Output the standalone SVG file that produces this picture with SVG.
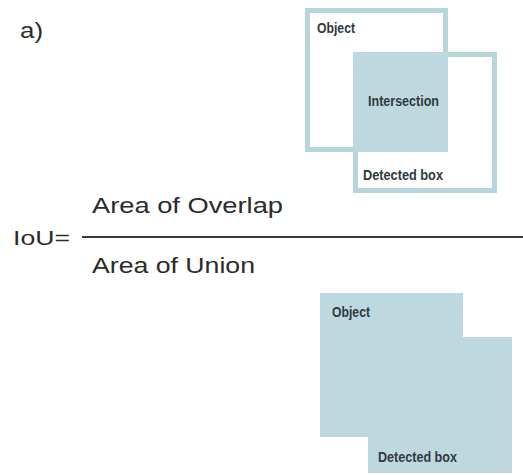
<svg xmlns="http://www.w3.org/2000/svg" width="523" height="475" viewBox="0 0 523 475">
<style>
.frame{fill:none;stroke:#b7d5db;stroke-width:5}
.fill{fill:#bdd9df;stroke:none}
.lbl{font-family:"Liberation Sans Narrow","Liberation Sans",sans-serif;font-weight:bold;font-size:15px;fill:#2f3a3d}
.big{font-family:"Liberation Sans",Arial,sans-serif;fill:#2b2b2b}
</style>
<rect width="523" height="475" fill="#ffffff"/>
<text class="big" x="20" y="38" font-size="22" textLength="23" lengthAdjust="spacingAndGlyphs">a)</text>
<g id="top-object"><rect class="frame" x="307.5" y="10.5" width="138" height="139"/></g>
<g id="top-detected"><rect class="frame" x="355.5" y="54.5" width="139" height="136"/></g>
<g id="intersection"><rect class="fill" x="353" y="52" width="95" height="100"/>
<text class="lbl" x="368" y="106" textLength="71" lengthAdjust="spacingAndGlyphs">Intersection</text></g>
<text class="lbl" x="317" y="33" textLength="38" lengthAdjust="spacingAndGlyphs">Object</text>
<text class="lbl" x="363" y="180" textLength="80" lengthAdjust="spacingAndGlyphs">Detected box</text>
<g id="formula">
<text class="big" x="13" y="245" font-size="20" textLength="57" lengthAdjust="spacingAndGlyphs">IoU=</text>
<text class="big" x="92" y="213" font-size="22" textLength="191" lengthAdjust="spacingAndGlyphs">Area of Overlap</text>
<line x1="82" y1="237" x2="523" y2="237" stroke="#3a3a3a" stroke-width="2"/>
<text class="big" x="92" y="273" font-size="22" textLength="163" lengthAdjust="spacingAndGlyphs">Area of Union</text>
</g>
<g id="union">
<rect class="fill" x="320" y="293" width="143" height="144"/>
<rect class="fill" x="368" y="337" width="144" height="136"/>
<text class="lbl" x="332" y="317" textLength="38" lengthAdjust="spacingAndGlyphs">Object</text>
<text class="lbl" x="378" y="462" textLength="79" lengthAdjust="spacingAndGlyphs">Detected box</text>
</g>
</svg>
